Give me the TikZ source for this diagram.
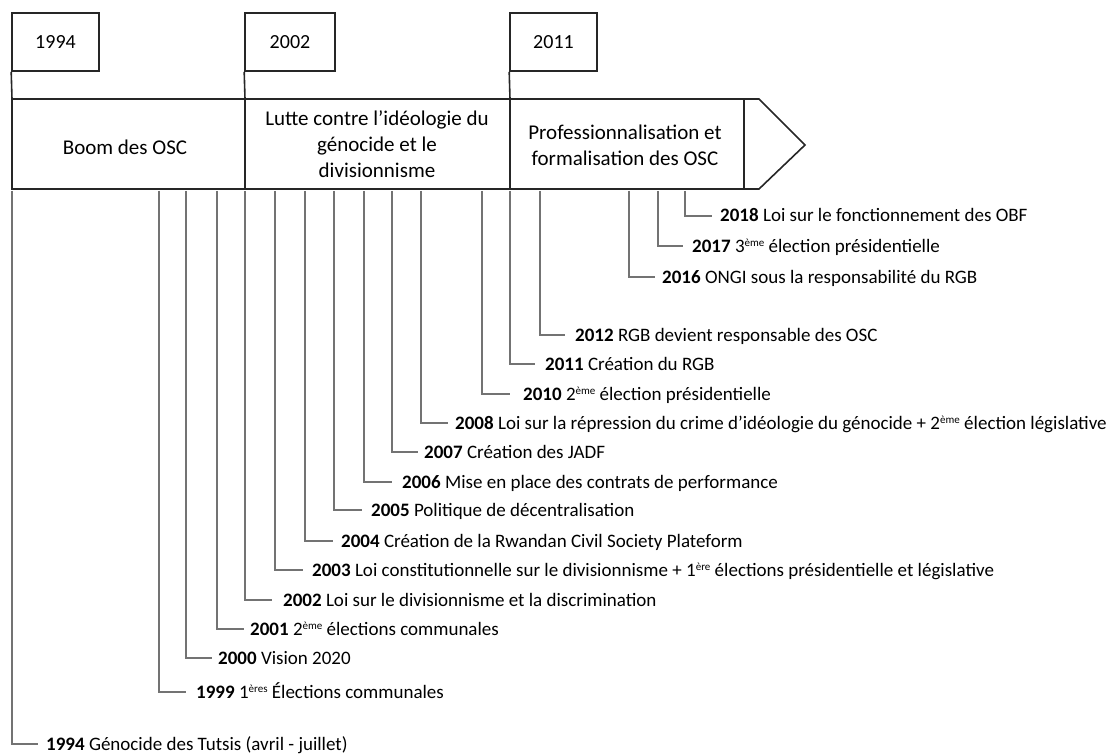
\documentclass[tikz,border=0pt]{standalone}
\usepackage{fontspec}
\setmainfont{Carlito}
\newcommand{\supx}[1]{\raisebox{0.6ex}{\fontsize{11}{11}\selectfont #1}}
\begin{document}
\begin{tikzpicture}[x=1pt,y=-1pt,
  yearbox/.style={draw=black!85,line width=1.6pt,minimum width=87pt,minimum height=58pt,inner sep=0pt,font=\fontsize{20}{24}\selectfont},
  band/.style={draw=black!85,line width=1.6pt},
  bandtext/.style={align=center,font=\fontsize{21}{26}\selectfont},
  evline/.style={draw=black!55,line width=1.4pt},
  evlabel/.style={anchor=west,inner ysep=0pt,text height=12pt,text depth=0pt,font=\fontsize{19}{23}\selectfont}]
\useasboundingbox (0,0) rectangle (1119,754);
% year boxes
\node[yearbox] (b1994) at (55.5,42) {1994};
\node[yearbox,minimum width=90pt] (b2002) at (290,42) {2002};
\node[yearbox] (b2011) at (553.5,42) {2011};
\coordinate (t1994) at (12,99);
\coordinate (t2002) at (245,99);
\coordinate (t2011) at (510,99);
\draw[band] (b1994.south west) -- (t1994);
\draw[band] (b2002.south west) -- (t2002);
\draw[band] (b2011.south west) -- (t2011);
% band
\draw[band,line join=miter] (12,99) -- (759,99) -- (805,145) -- (759,189) -- (12,189) -- cycle;
\draw[band,line width=1.2pt] (245,99) -- (245,189);
\draw[band,line width=1.2pt] (510,99) -- (510,189);
\draw[band,line width=1.2pt] (744,99) -- (744,189);
\node[bandtext] (p1) at (125,147) {Boom des OSC};
\node[bandtext] (p2) at (377,144) {Lutte contre l’idéologie du\\génocide et le\\divisionnisme};
\node[bandtext] (p3) at (625,145) {Professionnalisation et\\formalisation des OSC};
% events: vertical x, label y, stub end x, gap, name, text
\foreach \vx/\ly/\sx/\gap/\nm/\txt in {
  12/744/38/8/a/{\textbf{1994} Génocide des Tutsis (avril - juillet)},
  159/692/186/10/b/{\textbf{1999} 1\supx{ères} Élections communales},
  186/658/212/6/c/{\textbf{2000} Vision 2020},
  217/629/244/6/d/{\textbf{2001} 2\supx{ème} élections communales},
  245/600/272/11/e/{\textbf{2002} Loi sur le divisionnisme et la discrimination},
  275/570/303/9/f/{\textbf{2003} Loi constitutionnelle sur le divisionnisme + 1\supx{ère} élections présidentielle et législative},
  305/541/333/8/g/{\textbf{2004} Création de la Rwandan Civil Society Plateform},
  334/510/362/9/h/{\textbf{2005} Politique de décentralisation},
  364/482/392/10/i/{\textbf{2006} Mise en place des contrats de performance},
  392/452/418/6/j/{\textbf{2007} Création des JADF},
  421/423/448/7/k/{\textbf{2008} Loi sur la répression du crime d’idéologie du génocide + 2\supx{ème} élection législative},
  482/394/510/13/l/{\textbf{2010} 2\supx{ème} élection présidentielle},
  510/364/535/10/m/{\textbf{2011} Création du RGB},
  540/335/565/10/n/{\textbf{2012} RGB devient responsable des OSC},
  629/277/655/7/o/{\textbf{2016} ONGI sous la responsabilité du RGB},
  658/246/683/9/p/{\textbf{2017} 3\supx{ème} élection présidentielle},
  685/216/712/8/q/{\textbf{2018} Loi sur le fonctionnement des OBF}}{
  \coordinate (s\nm) at (\vx,191);
  \node[evlabel,inner xsep=\gap pt] (e\nm) at (\sx,\ly) {\txt};
  \draw[evline] (s\nm) |- (e\nm.west);
}
\end{tikzpicture}
\end{document}
